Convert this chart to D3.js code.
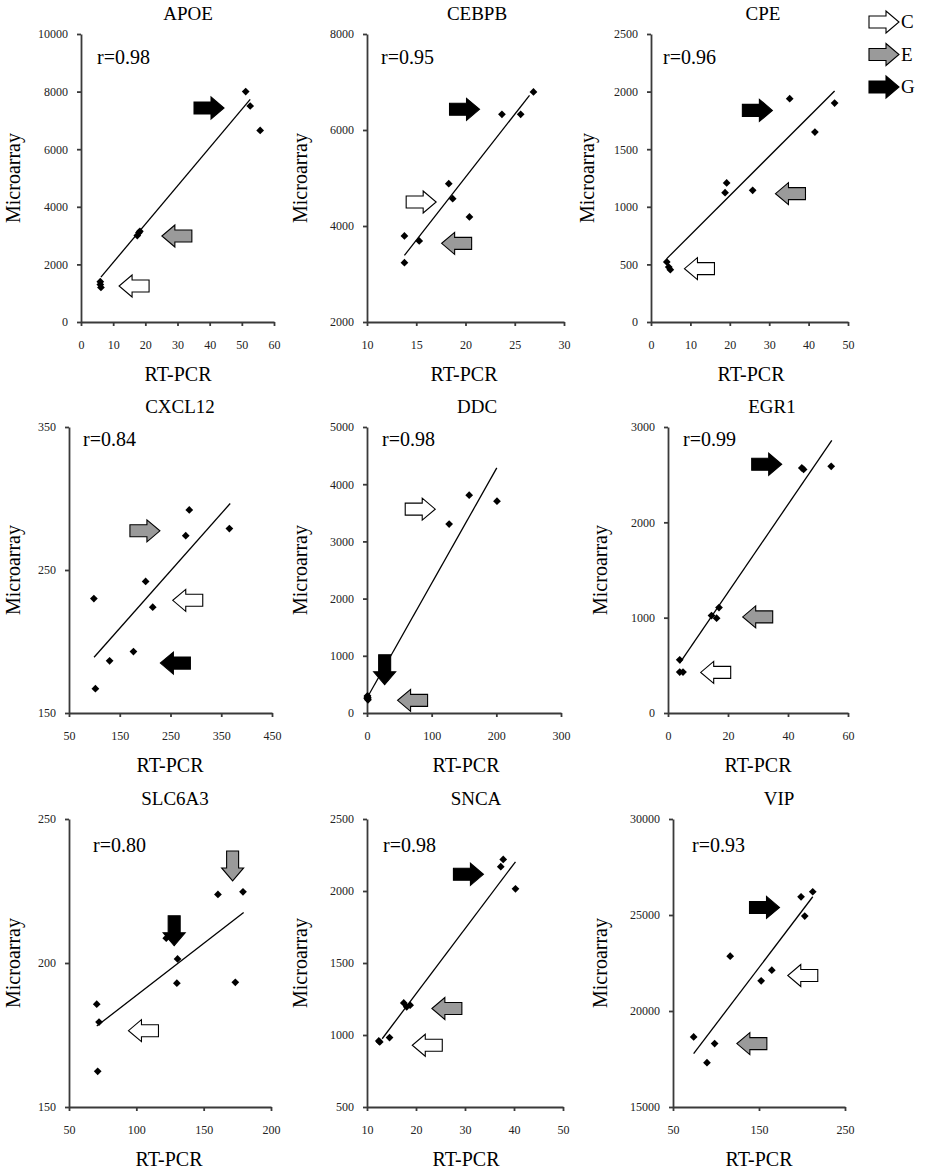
<!DOCTYPE html>
<html>
<head>
<meta charset="utf-8">
<script src="https://cdn.jsdelivr.net/npm/d3@7"></script>
<style>
  body { margin: 0; background: #fff; }
  svg { display: block; font-family: "Liberation Serif", "Times New Roman", serif; }
  svg text { font-family: "Liberation Serif", "Times New Roman", serif; }
  .tick text { font-size: 12px; fill: #222; }
  .domain, .tick line { stroke: #3a3a3a; stroke-width: 1.8px; }
</style>
</head>
<body>
<div id="chart"></div>
<script>
let width = 925;
let height = 1169;

// gene names and correlation labels
let genes = ["APOE", "CEBPB", "CPE", "CXCL12", "DDC", "EGR1", "SLC6A3", "SNCA", "VIP"];
let rValues = ["0.98", "0.95", "0.96", "0.84", "0.98", "0.99", "0.80", "0.98", "0.93"];

// axis domains and tick labels
let xDomains = [[0, 60], [10, 30], [0, 50], [50, 450], [0, 300], [0, 60], [50, 200], [10, 50], [50, 250]];
let yDomains = [[0, 10000], [2000, 8000], [0, 2500], [150, 350], [0, 5000], [0, 3000], [150, 250], [500, 2500], [15000, 30000]];
let xTicks = [
  [0, 10, 20, 30, 40, 50, 60],
  [10, 15, 20, 25, 30],
  [0, 10, 20, 30, 40, 50],
  [50, 150, 250, 350, 450],
  [0, 100, 200, 300],
  [0, 20, 40, 60],
  [50, 100, 150, 200],
  [10, 20, 30, 40, 50],
  [50, 150, 250]
];
let yTicks = [
  [0, 2000, 4000, 6000, 8000, 10000],
  [2000, 4000, 6000, 8000],
  [0, 500, 1000, 1500, 2000, 2500],
  [150, 250, 350],
  [0, 1000, 2000, 3000, 4000, 5000],
  [0, 1000, 2000, 3000],
  [150, 200, 250],
  [500, 1000, 1500, 2000, 2500],
  [15000, 20000, 25000, 30000]
];

// RT-PCR values (x) and microarray values (y)
let pcrValues = [
  [6, 6, 6.2, 17.5, 18, 18.3, 51.2, 52.6, 55.7],
  [13.8, 13.8, 15.3, 18.3, 18.7, 20.4, 23.7, 25.6, 26.9],
  [4.0, 4.5, 4.9, 18.8, 19.2, 25.8, 35.2, 41.6, 46.6],
  [102, 130, 177, 99, 215, 201, 280, 287, 366],
  [0.3, 0.8, 1.2, 0.5, 1.5, 1, 127, 158, 201],
  [3.9, 3.9, 5.0, 14.5, 16.2, 17.0, 44.6, 45.2, 54.4],
  [70.6, 72.3, 71.3, 160.6, 179.2, 173.5, 122.2, 130.6, 130.1],
  [12.4, 12.6, 14.6, 17.5, 18.1, 18.8, 37.3, 37.8, 40.3],
  [152.5, 164.9, 116.5, 74, 98.4, 89.5, 198.9, 212.5, 203.2]
];
let arrayValues = [
  [1400, 1300, 1200, 3000, 3100, 3150, 8000, 7500, 6650],
  [3792, 3236, 3688, 4882, 4569, 4188, 6326, 6326, 6792],
  [521, 477, 454, 1123, 1207, 1143, 1939, 1649, 1901],
  [167, 186.5, 193, 230, 224, 242, 274, 292, 279],
  [260, 300, 270, 280, 230, 250, 3302, 3808, 3703],
  [558, 429, 429, 1022, 994, 1106, 2570, 2555, 2588],
  [185.7, 179.5, 162.4, 223.8, 224.7, 193.3, 208.6, 201.4, 193.0],
  [959, 952, 982, 1223, 1196, 1207, 2169, 2219, 2015],
  [21569, 22125, 22855, 18650, 18302, 17311, 25950, 26211, 24942]
];

// trend line end points [x1, y1, x2, y2]
let fitLines = [
  [6.2, 1560, 52.6, 7730],
  [13.8, 3389, 26.5, 6722],
  [4.0, 550, 46.6, 2005],
  [99.4, 189, 367.6, 296.5],
  [0, 262, 200.7, 4285],
  [3.9, 523, 54.6, 2860],
  [70.6, 178.1, 179.7, 217.5],
  [13.1, 974, 40.3, 2203],
  [74, 17780, 212.5, 25950]
];

// group arrows: group, centre x, centre y, direction
let arrowGroups = [
  [["G", 39.8, 7430, "right"], ["E", 29.8, 2986, "left"], ["C", 16.5, 1250, "left"]],
  [["G", 19.9, 6431, "right"], ["C", 15.5, 4500, "right"], ["E", 19.1, 3639, "left"]],
  [["G", 27.0, 1837, "right"], ["E", 35.4, 1114, "left"], ["C", 12.3, 463, "left"]],
  [["E", 199.6, 277.4, "right"], ["C", 284, 228.8, "left"], ["G", 259.6, 184.9, "left"]],
  [["C", 82.3, 3564, "right"], ["G", 27.3, 756, "down"], ["E", 70.5, 221, "left"]],
  [["G", 32.9, 2609, "right"], ["E", 29.9, 1008, "left"], ["C", 15.9, 426, "left"]],
  [["G", 128.1, 211.2, "down"], ["E", 171.5, 233.7, "down"], ["C", 105.3, 176.5, "left"]],
  [["G", 30.7, 2116, "right"], ["E", 26.3, 1184, "left"], ["C", 22.3, 929, "left"]],
  [["G", 156.4, 25394, "right"], ["C", 200.9, 21848, "left"], ["E", 141.7, 18302, "left"]]
];

let legendGroups = ["C", "E", "G"];
let groupFill = { C: "#ffffff", E: "#9a9a9a", G: "#000000" };

// 面板布局 (plot box in pixels)
let panels = [
  { left: 81, right: 274, top: 34, bottom: 322, titleX: 188, labelX: 13, rtX: 178, rx: 16, ry: 30 },
  { left: 367, right: 564, top: 34, bottom: 322, titleX: 477, labelX: 300, rtX: 464, rx: 14, ry: 30 },
  { left: 651, right: 848, top: 34, bottom: 322, titleX: 763, labelX: 587, rtX: 751, rx: 12, ry: 30 },
  { left: 69, right: 272, top: 427, bottom: 713, titleX: 180, labelX: 13, rtX: 170, rx: 14, ry: 19 },
  { left: 367, right: 561, top: 427, bottom: 713, titleX: 477, labelX: 300, rtX: 466, rx: 15, ry: 19 },
  { left: 668, right: 848, top: 427, bottom: 713, titleX: 772, labelX: 600, rtX: 758, rx: 15, ry: 19 },
  { left: 69, right: 271, top: 819, bottom: 1107, titleX: 175, labelX: 13, rtX: 169, rx: 24, ry: 33 },
  { left: 367, right: 563, top: 819, bottom: 1107, titleX: 476, labelX: 300, rtX: 466, rx: 16, ry: 33 },
  { left: 673, right: 845, top: 819, bottom: 1107, titleX: 779, labelX: 600, rtX: 759, rx: 19, ry: 33 }
];

let fontFamily = "Liberation Serif, Times New Roman, serif";

let svg = d3.select("#chart").append("svg")
  .attr("width", width)
  .attr("height", height)
  .attr("font-family", fontFamily);

// block arrow pointing right, centred on 0,0
function arrowPath() {
  let L = 30, H = 22, B = 12, HL = 13;
  return "M" + (-L / 2) + "," + (-B / 2) +
    "L" + (L / 2 - HL) + "," + (-B / 2) +
    "L" + (L / 2 - HL) + "," + (-H / 2) +
    "L" + (L / 2) + ",0" +
    "L" + (L / 2 - HL) + "," + (H / 2) +
    "L" + (L / 2 - HL) + "," + (B / 2) +
    "L" + (-L / 2) + "," + (B / 2) + "Z";
}
let rotation = { right: 0, left: 180, down: 90, up: -90 };

function drawArrow(g, x, y, group, dir) {
  g.append("path")
    .attr("d", arrowPath())
    .attr("transform", "translate(" + x + "," + y + ") rotate(" + rotation[dir] + ")")
    .attr("fill", groupFill[group])
    .attr("stroke", "#000")
    .attr("stroke-width", 1.1)
    .attr("stroke-linejoin", "miter");
}

let diamond = d3.symbol().type(d3.symbolSquare).size(30);

genes.forEach(function(gene, i) {
  let p = panels[i];
  let xScale = d3.scaleLinear().domain(xDomains[i]).range([p.left, p.right]);
  let yScale = d3.scaleLinear().domain(yDomains[i]).range([p.bottom, p.top]);
  let g = svg.append("g");

  g.append("g")
    .attr("transform", "translate(0," + p.bottom + ")")
    .call(d3.axisBottom(xScale).tickValues(xTicks[i]).tickFormat(d3.format("d"))
      .tickSize(4).tickSizeOuter(0).tickPadding(14))
    .attr("font-family", fontFamily);

  g.append("g")
    .attr("transform", "translate(" + p.left + ",0)")
    .call(d3.axisLeft(yScale).tickValues(yTicks[i]).tickFormat(d3.format("d"))
      .tickSize(4).tickSizeOuter(0).tickPadding(9))
    .attr("font-family", fontFamily);

  // 标题
  g.append("text")
    .attr("x", p.titleX)
    .attr("y", p.top - 14)
    .attr("text-anchor", "middle")
    .style("font-size", "19px")
    .text(gene);

  g.append("text")
    .attr("x", p.rtX)
    .attr("y", p.bottom + 59)
    .attr("text-anchor", "middle")
    .style("font-size", "20px")
    .text("RT-PCR");

  g.append("text")
    .attr("transform", "translate(" + (p.labelX + 7) + "," + ((p.top + p.bottom) / 2) + ") rotate(-90)")
    .attr("text-anchor", "middle")
    .style("font-size", "20px")
    .text("Microarray");

  g.append("text")
    .attr("x", p.left + p.rx)
    .attr("y", p.top + p.ry)
    .style("font-size", "20px")
    .text("r=" + rValues[i]);

  // 回归线
  let f = fitLines[i];
  g.append("line")
    .attr("x1", xScale(f[0])).attr("y1", yScale(f[1]))
    .attr("x2", xScale(f[2])).attr("y2", yScale(f[3]))
    .attr("stroke", "#000")
    .attr("stroke-width", 1.3);

  // 散点
  g.selectAll(".pt")
    .data(pcrValues[i].map(function(v, j) { return [v, arrayValues[i][j]]; }))
    .enter().append("path")
    .attr("class", "pt")
    .attr("d", diamond)
    .attr("transform", function(d) { return "translate(" + xScale(d[0]) + "," + yScale(d[1]) + ") rotate(45)"; })
    .attr("fill", "#000");

  arrowGroups[i].forEach(function(a) {
    drawArrow(g, xScale(a[1]), yScale(a[2]), a[0], a[3]);
  });
});

// 图例
let legend = svg.append("g");
legendGroups.forEach(function(grp, i) {
  drawArrow(legend, 884, 22 + i * 32.5, grp, "right");
  legend.append("text")
    .attr("x", 901)
    .attr("y", 28 + i * 32.5)
    .style("font-size", "19px")
    .text(grp);
});
</script>
</body>
</html>
